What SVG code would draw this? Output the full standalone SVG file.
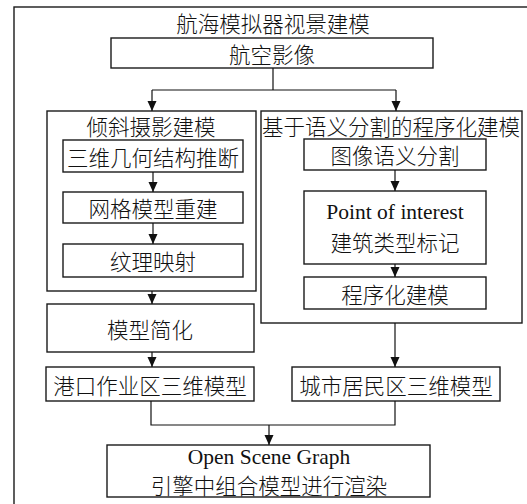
<svg xmlns="http://www.w3.org/2000/svg" width="527" height="504" viewBox="0 0 527 504">
<style>
.box{fill:#fff;stroke:#1a1a1a;stroke-width:1.4}
.grp{fill:none;stroke:#1a1a1a;stroke-width:1.4}
.ln{fill:none;stroke:#111;stroke-width:1.2}
.t{font-family:"Noto Sans CJK SC","Liberation Serif",sans-serif;font-size:21.5px;font-weight:300;fill:#111;text-anchor:middle;dominant-baseline:central}
.e{font-family:"Liberation Serif","Noto Sans CJK SC",serif;font-size:21.5px;fill:#111;text-anchor:middle;dominant-baseline:central}
</style>
<defs>
<marker id="arr" markerUnits="userSpaceOnUse" markerWidth="10" markerHeight="10" viewBox="0 0 10 10" refX="10" refY="5" orient="auto">
<path d="M0,0.5 L10,5 L0,9.5 z" fill="#111"/>
</marker>
</defs>
<rect width="527" height="504" fill="#fff"/>
<g id="frame">
<rect class="grp" x="14" y="7" width="540" height="520"/>
<text class="t" x="273" y="22">航海模拟器视景建模</text>
</g>
<g id="n-aerial">
<rect class="box" x="111" y="38" width="322" height="30"/>
<text class="t" x="272" y="53">航空影像</text>
</g>
<g id="g-oblique">
<rect class="grp" x="47" y="111" width="209" height="180"/>
<text class="t" x="151" y="125">倾斜摄影建模</text>
</g>
<g id="n-geo">
<rect class="box" x="63" y="140" width="180" height="32"/>
<text class="t" x="153" y="156">三维几何结构推断</text>
</g>
<g id="n-mesh">
<rect class="box" x="63" y="192" width="180" height="31"/>
<text class="t" x="153" y="207.5">网格模型重建</text>
</g>
<g id="n-tex">
<rect class="box" x="63" y="244" width="180" height="33"/>
<text class="t" x="153" y="260.5">纹理映射</text>
</g>
<g id="n-simp">
<rect class="box" x="47" y="304" width="207" height="48"/>
<text class="t" x="150" y="328">模型简化</text>
</g>
<g id="n-port">
<rect class="box" x="46" y="367" width="208" height="34"/>
<text class="t" x="150" y="384">港口作业区三维模型</text>
</g>
<g id="g-proc">
<rect class="grp" x="261" y="111" width="261" height="212"/>
<text class="t" x="391" y="125">基于语义分割的程序化建模</text>
</g>
<g id="n-seg">
<rect class="box" x="304" y="139" width="182" height="31"/>
<text class="t" x="395" y="154.5">图像语义分割</text>
</g>
<g id="n-poi">
<rect class="box" x="304" y="191" width="182" height="73"/>
<text class="e" x="395" y="212">Point of interest</text>
<text class="t" x="395" y="241">建筑类型标记</text>
</g>
<g id="n-procm">
<rect class="box" x="304" y="277" width="182" height="32"/>
<text class="t" x="395" y="293">程序化建模</text>
</g>
<g id="n-city">
<rect class="box" x="292" y="367" width="208" height="34"/>
<text class="t" x="396" y="384">城市居民区三维模型</text>
</g>
<g id="n-osg">
<rect class="box" x="107" y="445" width="323" height="52"/>
<text class="e" x="269" y="457">Open Scene Graph</text>
<text class="t" x="269" y="484">引擎中组合模型进行渲染</text>
</g>
<g id="connectors">
<path class="ln" d="M273,68 V90 M152,90 H396"/>
<path class="ln" d="M152,90 V111" marker-end="url(#arr)"/>
<path class="ln" d="M396,90 V111" marker-end="url(#arr)"/>
<path class="ln" d="M153,172 V192" marker-end="url(#arr)"/>
<path class="ln" d="M153,223 V244" marker-end="url(#arr)"/>
<path class="ln" d="M152,291 V304" marker-end="url(#arr)"/>
<path class="ln" d="M152,352 V367" marker-end="url(#arr)"/>
<path class="ln" d="M395,170 V191" marker-end="url(#arr)"/>
<path class="ln" d="M395,264 V277" marker-end="url(#arr)"/>
<path class="ln" d="M395,323 V367" marker-end="url(#arr)"/>
<path class="ln" d="M151,401 V425 H395 V401"/>
<path class="ln" d="M269,425 V445" marker-end="url(#arr)"/>
</g>
</svg>
